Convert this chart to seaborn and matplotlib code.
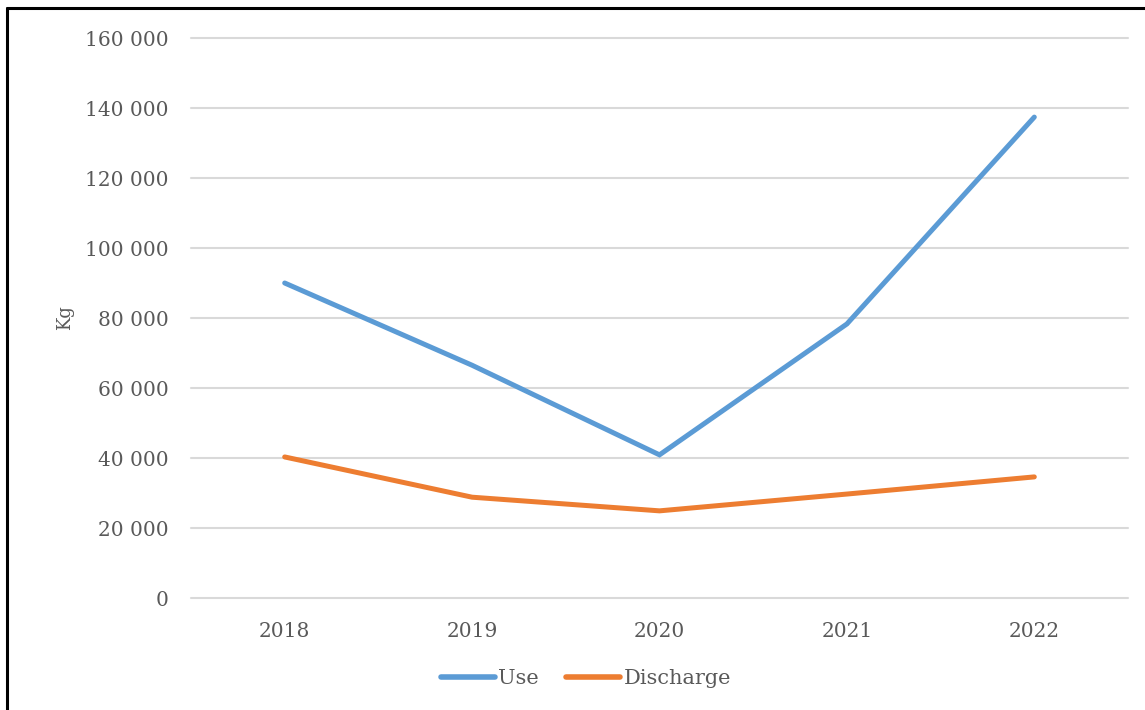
import matplotlib
matplotlib.use("Agg")
import matplotlib.pyplot as plt
from matplotlib.lines import Line2D
from matplotlib.ticker import FuncFormatter
import pandas as pd
import seaborn as sns

years = ["2018", "2019", "2020", "2021", "2022"]
use_kg = [90000, 66500, 40900, 78300, 137400]
discharge_kg = [40300, 28800, 24900, 29700, 34600]
y_ticks = [0, 20000, 40000, 60000, 80000, 100000, 120000, 140000, 160000]

df = pd.DataFrame({
    "Year": years * 2,
    "Kg": use_kg + discharge_kg,
    "Series": ["Use"] * len(years) + ["Discharge"] * len(years),
})

sns.set_theme(style="white")
plt.rcParams["font.family"] = ["DejaVu Serif", "Liberation Serif"]

text_grey = "#595959"
fig = plt.figure(figsize=(11.45, 7.10), dpi=100)
ax = fig.add_axes([191 / 1145, 1 - 598 / 710, (1128 - 191) / 1145, (598 - 38) / 710])

sns.lineplot(
    data=df, x="Year", y="Kg", hue="Series",
    palette={"Use": "#5B9BD5", "Discharge": "#ED7D31"},
    linewidth=3.6, ax=ax, legend=False, sort=False,
    solid_capstyle="round", solid_joinstyle="miter",
)

ax.set_xlim(-0.5, len(years) - 0.5)
ax.set_ylim(0, 160000)
ax.set_yticks(y_ticks)
ax.yaxis.set_major_formatter(FuncFormatter(lambda v, p: f"{int(v):,}".replace(",", " ")))
ax.grid(axis="y", color="#D9D9D9", linewidth=1.5)
for gl in ax.get_ygridlines():
    gl.set_clip_on(False)
ax.set_axisbelow(True)
for s in ax.spines.values():
    s.set_visible(False)
ax.tick_params(axis="both", length=0, labelsize=14.5, labelcolor=text_grey)
ax.tick_params(axis="y", pad=16)
ax.tick_params(axis="x", pad=17)
ax.set_xlabel("")
ax.set_ylabel("Kg", fontsize=13, color=text_grey, labelpad=8)

handles = [
    Line2D([0], [0], color="#5B9BD5", lw=4, solid_capstyle="round"),
    Line2D([0], [0], color="#ED7D31", lw=4, solid_capstyle="round"),
]
fig.legend(handles, ["Use", "Discharge"], loc="center",
           bbox_to_anchor=(586 / 1145, 1 - 679 / 710), ncol=2, frameon=False,
           fontsize=15, labelcolor=text_grey, handlelength=2.6,
           handletextpad=0.15, columnspacing=1.3)

# chart frame on the left and top edges
fig.add_artist(Line2D([7 / 1145, 7 / 1145], [0, 1 - 8 / 710], transform=fig.transFigure,
                      color="black", lw=2.2))
fig.add_artist(Line2D([7 / 1145, 1], [1 - 8 / 710, 1 - 8 / 710], transform=fig.transFigure,
                      color="black", lw=2.2))

fig.savefig("out.png", dpi=100, facecolor="white")
